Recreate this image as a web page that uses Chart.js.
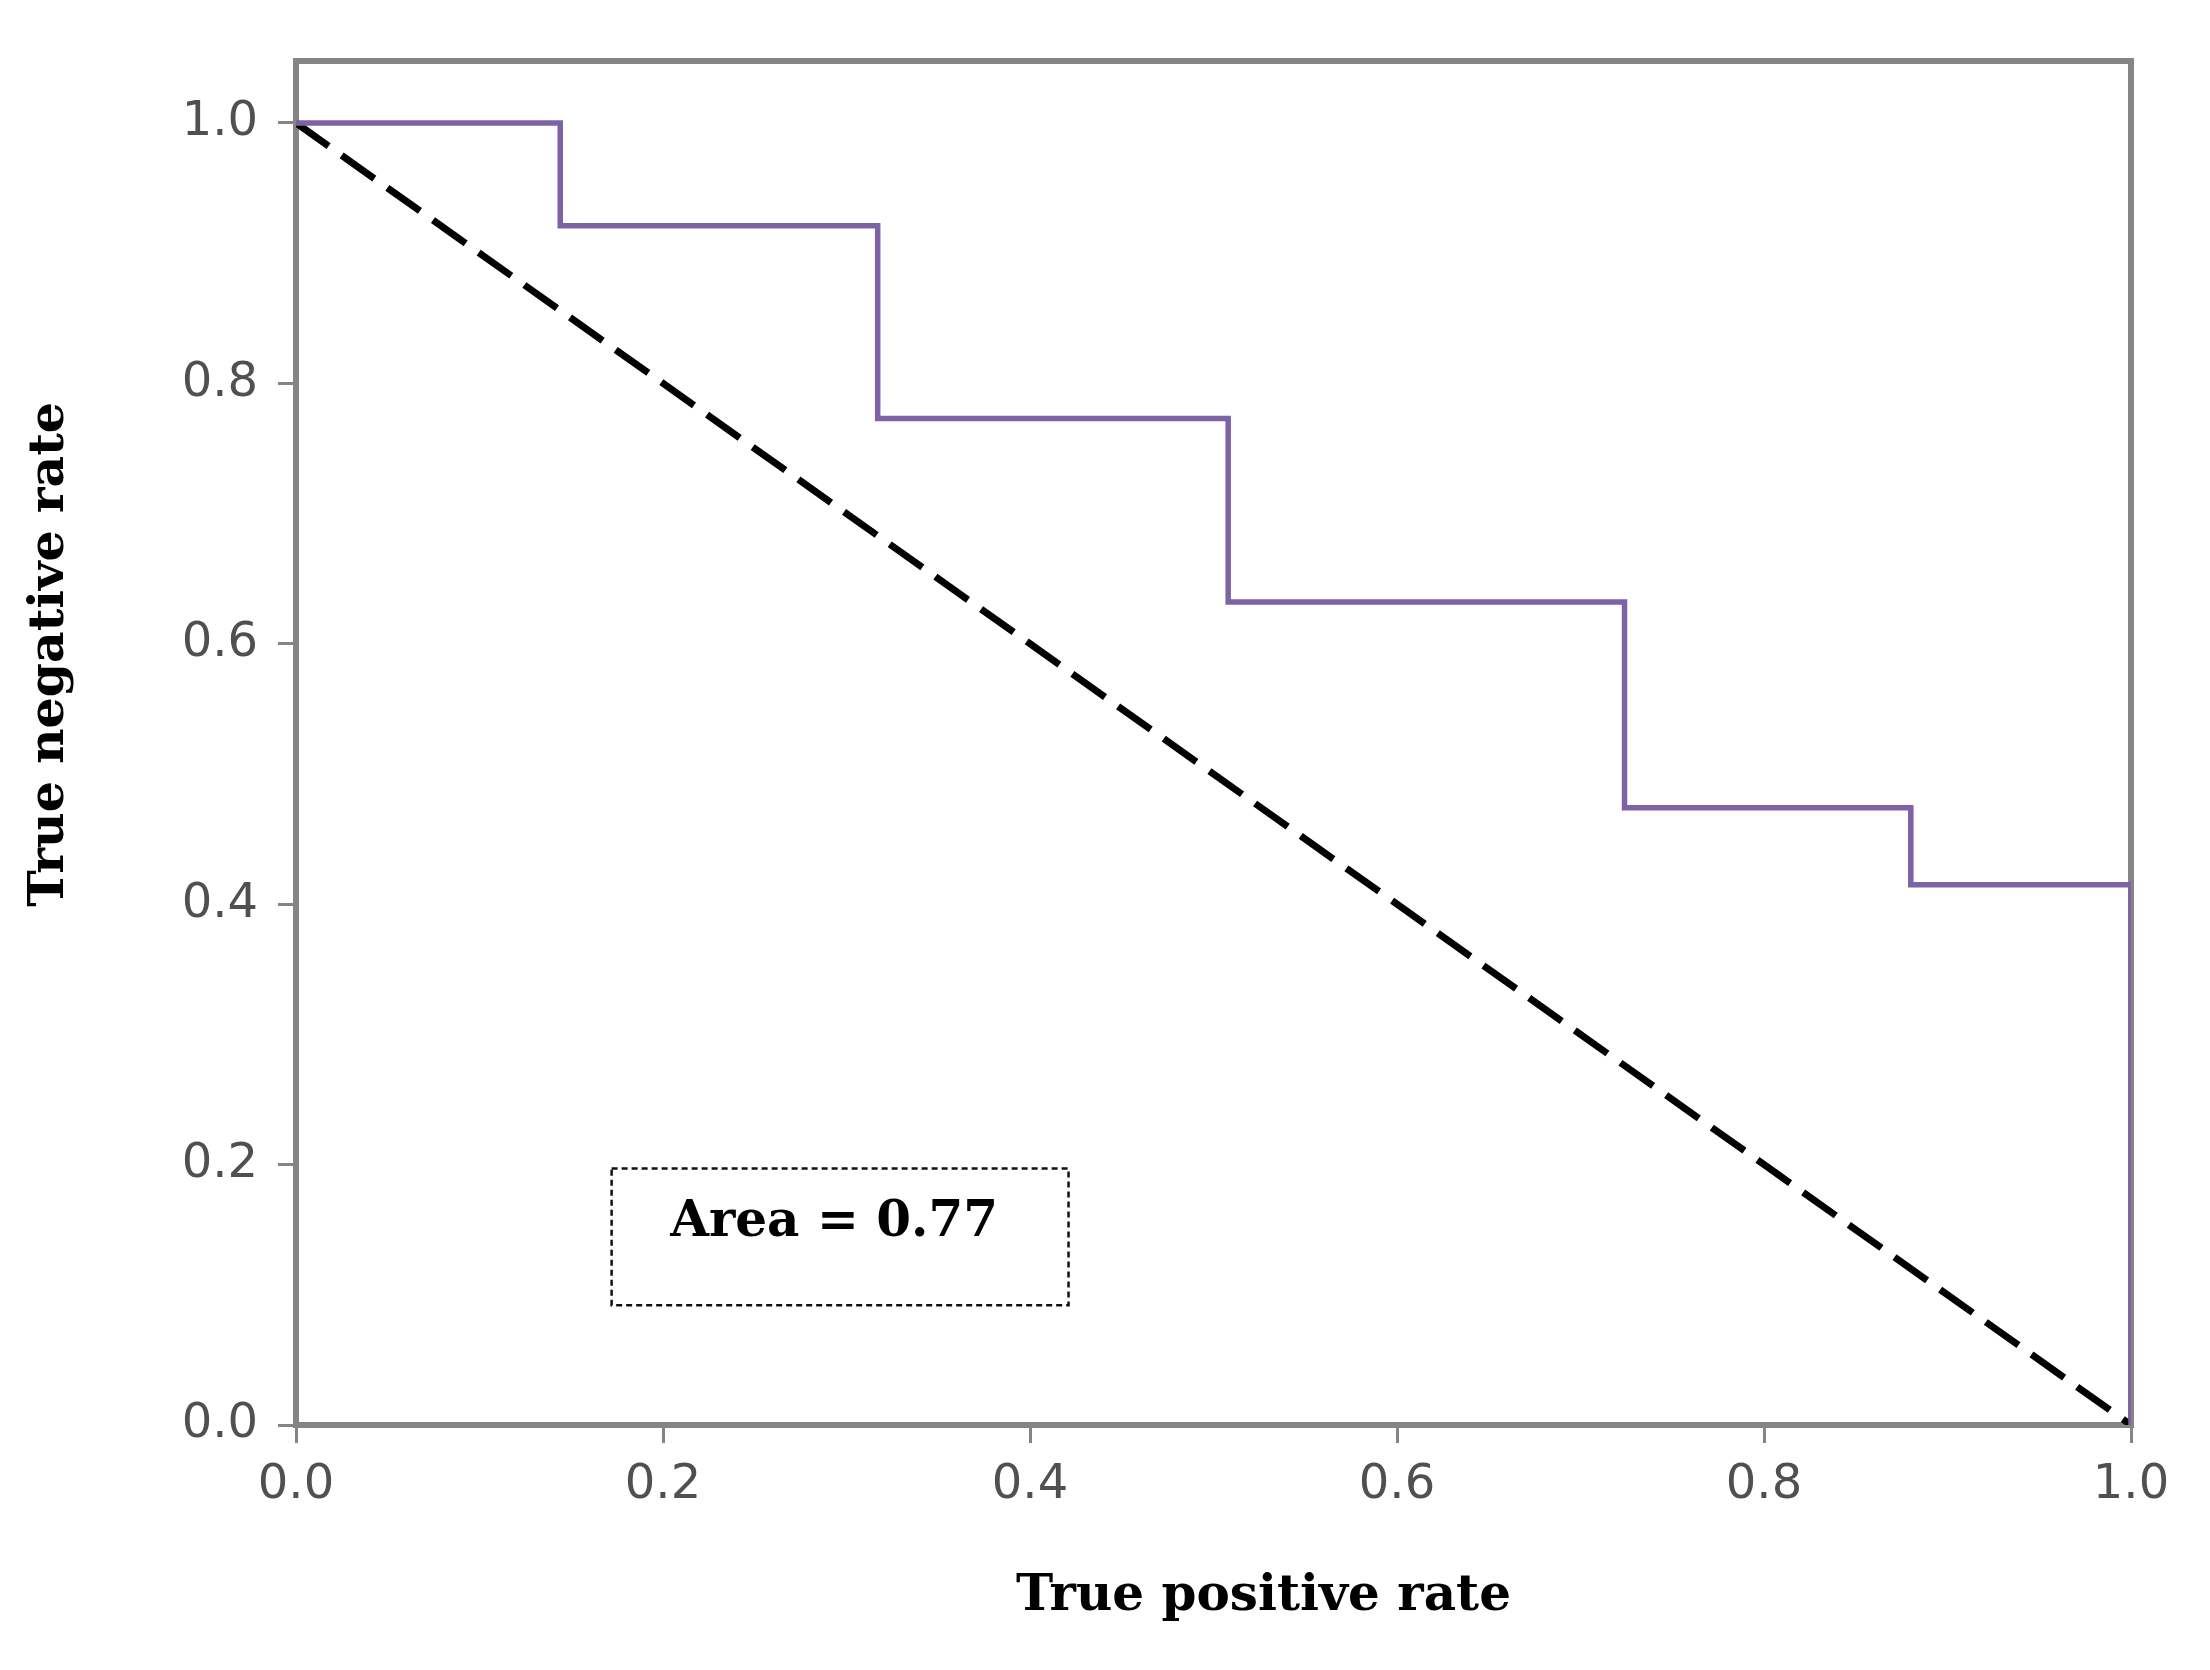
<!DOCTYPE html>
<html>
<head>
<meta charset="utf-8">
<script src="https://cdn.jsdelivr.net/npm/chart.js@4.4.1/dist/chart.umd.min.js"></script>
<style>
  body { margin: 0; background: #fff; }
  canvas { display: block; }
</style>
</head>
<body>
<canvas id="rocChart" width="2210" height="1670"></canvas>
<script>
// ROC step curve
const fpr = [0, 0.144, 0.317, 0.508, 0.724, 0.880, 1.0];
const tnr = [1.0, 0.921, 0.773, 0.632, 0.474, 0.415, 0.0];

// chance diagonal
const chanceX = [0, 1];
const chanceY = [1, 0];

const xTicks = [0, 0.2, 0.4, 0.6, 0.8, 1.0];
const yTicks = [0, 0.2, 0.4, 0.6, 0.8, 1.0];

const xTitle = 'True positive rate';
const yTitle = 'True negative rate';
const areaLabel = 'Area = 0.77';
// box around the area label, in data units
const areaBox = { x1: 0.172, x2: 0.421, y1: 0.092, y2: 0.197 };

const purple = '#7d62a6';
const frameGray = '#858585';
const tickFont = { family: 'DejaVu Sans', size: 48 };

const framePlugin = {
    id: 'frame',
    beforeDatasetsDraw(chart) {
        const { ctx, chartArea: a } = chart;
        ctx.save();
        ctx.strokeStyle = frameGray;
        ctx.lineWidth = 6;
        ctx.strokeRect(a.left, a.top, a.right - a.left, a.bottom - a.top);
        ctx.restore();
    }
};

const extrasPlugin = {
    id: 'extras',
    afterDatasetsDraw(chart) {
        const { ctx, chartArea: a, scales: { x, y } } = chart;
        ctx.save();

        // area box
        const bx1 = x.getPixelForValue(areaBox.x1);
        const bx2 = x.getPixelForValue(areaBox.x2);
        const by1 = y.getPixelForValue(areaBox.y2);
        const by2 = y.getPixelForValue(areaBox.y1);
        ctx.strokeStyle = '#111';
        ctx.lineWidth = 2.5;
        ctx.setLineDash([6, 4]);
        ctx.strokeRect(bx1, by1, bx2 - bx1, by2 - by1);
        ctx.setLineDash([]);

        ctx.fillStyle = '#000';
        ctx.font = 'bold 50px "DejaVu Serif"';
        ctx.textAlign = 'center';
        ctx.textBaseline = 'middle';
        ctx.fillText(areaLabel, (bx1 + bx2) / 2 - 6, (by1 + by2) / 2 - 14);

        // axis titles
        ctx.font = 'bold 50px "DejaVu Serif"';
        ctx.fillText(xTitle, (a.left + a.right) / 2 + 50, a.bottom + 172);

        ctx.translate(50, a.top + (a.bottom - a.top) * 0.435);
        ctx.rotate(-Math.PI / 2);
        ctx.font = 'bold 49px "DejaVu Serif"';
        ctx.fillText(yTitle, 0, 0);
        ctx.restore();
    }
};

const data = {
    datasets: [
        {
            label: 'ROC',
            data: fpr.map((v, i) => ({ x: v, y: tnr[i] })),
            borderColor: purple,
            borderWidth: 5.5,
            stepped: 'before',
            pointRadius: 0,
            fill: false
        },
        {
            label: 'Chance',
            data: chanceX.map((v, i) => ({ x: v, y: chanceY[i] })),
            borderColor: '#000',
            borderWidth: 7,
            borderDash: [40, 16],
            pointRadius: 0,
            fill: false
        }
    ]
};

const config = {
    type: 'line',
    data,
    options: {
        responsive: false,
        animation: false,
        devicePixelRatio: 1,
        layout: { padding: { left: 0, right: 79, top: 61, bottom: 0 } },
        plugins: { legend: { display: false }, tooltip: { enabled: false } },
        scales: {
            x: {
                type: 'linear',
                min: 0,
                max: 1,
                afterBuildTicks: s => { s.ticks = xTicks.map(v => ({ value: v })); },
                afterFit: s => { s.height = 245; },
                border: { display: false },
                grid: { drawOnChartArea: false, drawTicks: true, tickLength: 18, color: frameGray, lineWidth: 3 },
                ticks: {
                    color: '#505050',
                    font: tickFont,
                    padding: 14,
                    maxRotation: 0,
                    callback: v => Number(v).toFixed(1)
                }
            },
            y: {
                type: 'linear',
                min: 0,
                max: 1.0476,
                afterBuildTicks: s => { s.ticks = yTicks.map(v => ({ value: v })); },
                afterFit: s => { s.width = 296; },
                border: { display: false },
                grid: { drawOnChartArea: false, drawTicks: true, tickLength: 18, color: frameGray, lineWidth: 3 },
                ticks: {
                    color: '#505050',
                    font: tickFont,
                    padding: 20,
                    callback: v => Number(v).toFixed(1)
                }
            }
        }
    },
    plugins: [framePlugin, extrasPlugin]
};

const myChart = new Chart(document.getElementById('rocChart').getContext('2d'), config);
</script>
</body>
</html>
